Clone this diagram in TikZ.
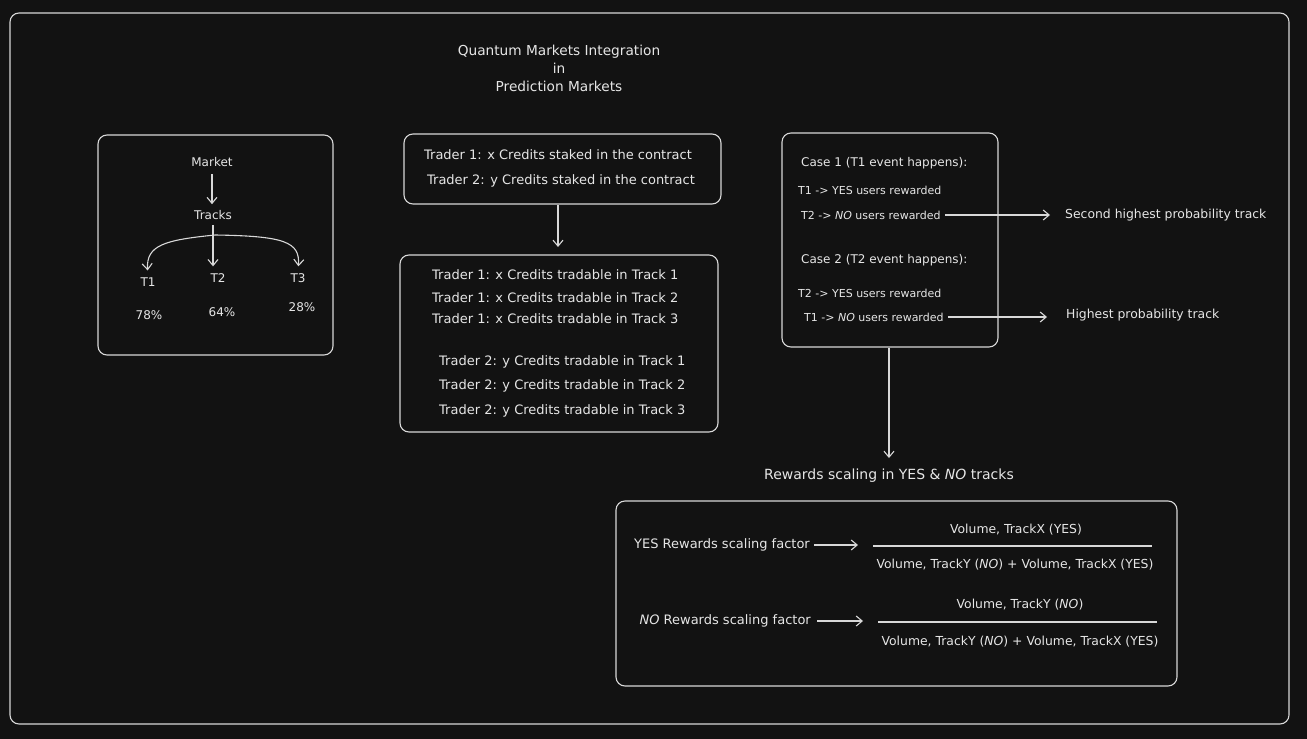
\documentclass[tikz,border=0pt]{standalone}
\usepackage{fontspec}
\setmainfont{DejaVu Sans}
\usepackage{tikz}
\usetikzlibrary{arrows.meta}
\usetikzlibrary{positioning}
\usetikzlibrary{calc}

\definecolor{bgdark}{HTML}{121212}
\definecolor{inkline}{HTML}{D8D8D8}
\definecolor{inktext}{HTML}{E6E6E6}

\tikzset{
  panel/.style={draw=inkline, line width=1.1pt, rounded corners=9pt, inner sep=0pt},
  lbl/.style={text=inktext, font=\fontsize{13}{15}\selectfont, inner sep=1pt},
  small/.style={text=inktext, font=\fontsize{11}{12}\selectfont, inner sep=1pt},
  casehead/.style={text=inktext, font=\fontsize{12}{14}\selectfont, inner sep=1pt},
  fraclbl/.style={text=inktext, font=\fontsize{12.4}{14}\selectfont, inner sep=1pt},
  flow/.style={draw=inkline, line width=1.1pt, -{Straight Barb[length=6pt,width=10pt]}},
  fracbar/.style={draw=inkline, line width=1.3pt}
}

\begin{document}
\begin{tikzpicture}[x=1pt, y=-1pt]
      \path[use as bounding box, fill=bgdark] (0, 0) rectangle (1307, 739);
      \draw[panel] (10, 13) rectangle (1289, 724);

      % title
      \node[lbl, align=center, font=\fontsize{13.7}{18}\selectfont] (title) at (559, 68)
        {Quantum Markets Integration\\in\\Prediction Markets};

      % market and its tracks
      \node[panel, minimum width=235pt, minimum height=220pt] (mktbox) at (215.5, 245) {};
      \node[casehead] (market) at (212, 162) {Market};
      \node[casehead] (tracks) at (213, 215) {Tracks};
      \node[casehead] (t1) at (148, 282) {T1};
      \node[casehead] (t2) at (218, 278) {T2};
      \node[casehead] (t3) at (298, 278) {T3};
      \node[casehead] (p1) at (149, 315) {78\%};
      \node[casehead] (p2) at (222, 312) {64\%};
      \node[casehead] (p3) at (302, 307) {28\%};
      \coordinate (fork) at (215, 235);
      \draw[flow, shorten <=6pt, shorten >=5pt] (market) -- (market |- tracks.north);
      \draw[flow, shorten <=4pt, shorten >=6pt] (tracks.south) -- (tracks.south |- t2.north);
      \draw[flow, shorten >=6pt] (fork) .. controls (165, 240) and (146, 245) .. (t1.north);
      \draw[flow, shorten >=6pt] (fork) .. controls (285, 236) and (300, 242) .. (t3.north);

      % staked credits
      \node[panel, minimum width=317pt, minimum height=70pt] (stake) at (562.5, 169) {};
      \node[lbl] (s1) at (558, 155) {Trader 1: x Credits staked in the contract};
      \node[lbl] (s2) at (561, 181) {Trader 2: y Credits staked in the contract};

      % tradable credits
      \node[panel, minimum width=318pt, minimum height=177pt] (trade) at (559, 343.5) {};
      \foreach \k/\y in {1/275, 2/298, 3/319} {
        \node[lbl, anchor=west] (xa\k) at (431, \y) {Trader 1: x Credits tradable in Track \k};
      }
      \foreach \k/\y in {1/362, 2/386, 3/411} {
        \node[lbl, anchor=west] (ya\k) at (438, \y) {Trader 2: y Credits tradable in Track \k};
      }
      \draw[flow, shorten >=8pt] (558, 205) -- (558, 255);

      % cases
      \node[panel, minimum width=216pt, minimum height=214pt] (cases) at (890, 240) {};
      \node[casehead, anchor=west] (c1) at (800, 163) {Case 1 (T1 event happens):};
      \node[small, anchor=west] (c1a) at (797, 190) {T1 -> YES users rewarded};
      \node[small, anchor=west] (c1b) at (800, 215) {T2 -> \textit{NO} users rewarded};
      \node[casehead, anchor=west] (c2) at (800, 260) {Case 2 (T2 event happens):};
      \node[small, anchor=west] (c2a) at (797, 293) {T2 -> YES users rewarded};
      \node[small, anchor=west] (c2b) at (803, 317) {T1 -> \textit{NO} users rewarded};
      \node[fraclbl, anchor=west] (sec) at (1064, 215) {Second highest probability track};
      \node[fraclbl, anchor=west] (high) at (1065, 315) {Highest probability track};
      \coordinate (e1) at (1050, 215);
      \coordinate (e2) at (1047, 317);
      \draw[flow] (c1b.east) ++(3, 0) -- (e1);
      \draw[flow] (c2b.east) ++(3, 0) -- (e2);

      % rewards scaling
      \node[lbl, font=\fontsize{14}{16}\selectfont] (rtitle) at (889, 476) {Rewards scaling in YES \& \textit{NO} tracks};
      \draw[flow] (cases.south -| rtitle) -- ($(rtitle.north)+(0,-10)$);
      \node[panel, minimum width=561pt, minimum height=185pt] (scale) at (896.5, 593.5) {};

      \node[lbl, anchor=east] (yesf) at (811, 545) {YES Rewards scaling factor};
      \node[fraclbl] (yesnum) at (1016, 530) {Volume, TrackX (YES)};
      \node[fraclbl] (yesden) at (1015, 565) {Volume, TrackY (\textit{NO}) + Volume, TrackX (YES)};
      \coordinate (yesbar) at (873, 546);
      \coordinate (yestip) at (858, 545);
      \draw[fracbar] (yesbar) -- ++(279, 0);
      \draw[flow] (yesf.east) ++(3, 0) -- (yestip);

      \node[lbl, anchor=east] (nof) at (812, 621) {\textit{NO} Rewards scaling factor};
      \node[fraclbl] (nonum) at (1020, 605) {Volume, TrackY (\textit{NO})};
      \node[fraclbl] (noden) at (1020, 642) {Volume, TrackY (\textit{NO}) + Volume, TrackX (YES)};
      \coordinate (nobar) at (878, 622);
      \coordinate (notip) at (863, 621);
      \draw[fracbar] (nobar) -- ++(279, 0);
      \draw[flow] (nof.east) ++(5, 0) -- (notip);
\end{tikzpicture}
\end{document}
